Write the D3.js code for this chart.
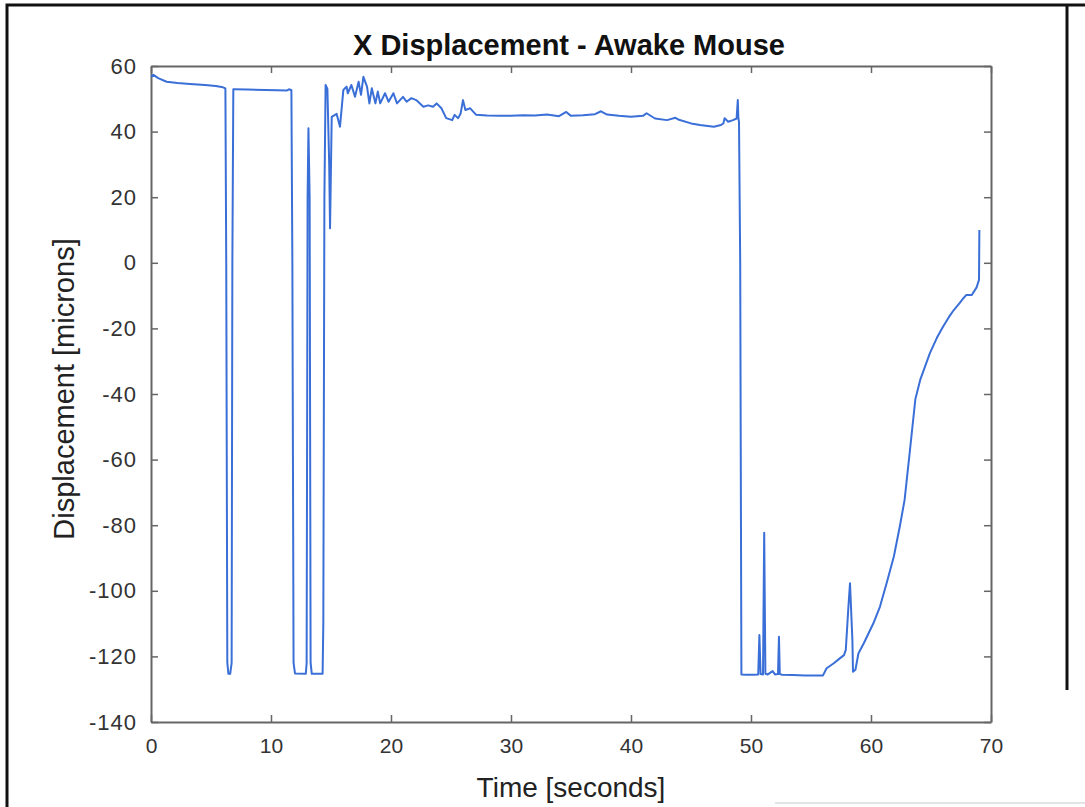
<!DOCTYPE html>
<html>
<head>
<meta charset="utf-8">
<script src="https://cdn.jsdelivr.net/npm/d3@7"></script>
<style>
  html, body { margin: 0; padding: 0; background: #fff; }
  svg { display: block; }
  text { font-family: "Liberation Sans", Arial, Helvetica, sans-serif; }
</style>
</head>
<body>
<svg id="chart" width="1085" height="807"></svg>
<script>
// Time samples [s]
const time = [
  0.0, 0.2, 0.6, 1.3, 2.2, 3.25, 4.5, 5.4, 6.0, 6.2, 6.27, 6.36, 6.45, 6.6, 6.72, 6.78, 6.86, 6.95,
  8.0, 9.5, 10.5, 11.3, 11.5, 11.7, 11.78, 11.88, 12.0, 12.9, 12.97, 13.05, 13.12, 13.22, 13.3, 13.4,
  14.3, 14.36, 14.45, 14.55, 14.7, 14.85, 14.92, 15.06, 15.47, 15.75, 16.03, 16.3, 16.4, 16.7, 17.0,
  17.3, 17.5, 17.7, 18.0, 18.2, 18.4, 18.7, 18.9, 19.1, 19.5, 19.8, 20.2, 20.5, 21.0, 21.3, 21.7,
  22.1, 22.7, 23.1, 23.5, 23.8, 24.2, 24.6, 25.1, 25.3, 25.6, 25.8, 26.0, 26.2, 26.6, 27.1, 28.0,
  29.1, 30.0, 31.0, 32.0, 33.0, 34.0, 34.6, 35.0, 36.0, 37.0, 37.5, 38.0, 39.0, 40.0, 41.0, 41.3,
  42.0, 43.0, 43.7, 44.0, 45.0, 45.75, 46.9, 47.5, 47.7, 47.8, 48.1, 48.5, 48.8, 48.9, 48.95, 49.0,
  49.1, 49.2, 49.6, 50.2, 50.6, 50.7, 50.8, 51.0, 51.1, 51.2, 51.4, 51.8, 52.0, 52.25, 52.33, 52.4,
  52.6, 53.5, 54.5, 55.5, 56.0, 56.3, 56.9, 57.4, 57.75, 57.9, 58.1, 58.25, 58.45, 58.5, 58.7, 58.95,
  59.4, 60.2, 60.75, 61.3, 61.9, 62.4, 62.8, 63.25, 63.7, 64.1, 64.9, 65.5, 66.0, 66.5, 66.9, 67.4,
  67.7, 67.95, 68.4, 68.8, 69.0, 69.03
];

// X displacement [microns]
const displacement = [
  56.7, 57.3, 56.3, 55.2, 54.8, 54.5, 54.2, 53.9, 53.5, 53.2, 0.0, -122.0, -125.3, -125.3, -122.0, 0.0, 52.9, 52.9,
  52.8, 52.7, 52.6, 52.5, 52.9, 52.6, 0.0, -122.0, -125.2, -125.3, -122.0, 20.0, 41.0, 20.0, -122.0, -125.3,
  -125.3, -110.0, 20.0, 54.2, 53.0, 30.0, 10.5, 44.5, 45.4, 41.5, 52.7, 53.7, 51.7, 54.2, 50.6,
  55.2, 51.2, 56.7, 53.7, 48.6, 53.2, 48.6, 52.2, 48.6, 51.7, 49.1, 51.7, 48.6, 50.6, 49.1, 50.2,
  49.6, 47.6, 48.0, 47.6, 48.6, 47.1, 44.1, 43.5, 45.1, 44.1, 45.5, 49.6, 46.6, 47.1, 45.1, 44.9,
  44.8, 44.8, 45.0, 44.9, 45.2, 44.7, 46.0, 44.8, 45.0, 45.3, 46.2, 45.2, 44.8, 44.5, 44.8, 45.6,
  44.0, 43.5, 44.2, 43.6, 42.5, 42.0, 41.5, 42.0, 42.5, 44.1, 43.0, 43.5, 44.0, 49.6, 44.0, 43.0,
  0.0, -125.5, -125.6, -125.6, -125.5, -113.5, -125.4, -125.5, -82.3, -125.3, -125.5, -124.5, -125.5, -125.4, -114.0, -125.4,
  -125.6, -125.7, -125.8, -125.8, -125.8, -123.6, -122.1, -120.6, -119.6, -118.0, -105.9, -97.7, -115.0, -124.7, -124.1, -119.1,
  -116.0, -109.9, -104.8, -97.7, -89.6, -80.4, -72.3, -57.0, -41.5, -35.7, -27.6, -22.8, -19.5, -16.5, -14.4, -12.2,
  -10.8, -9.8, -9.8, -7.5, -5.2, 10.0
];

const xTicks = [0, 10, 20, 30, 40, 50, 60, 70];
const yTicks = [-140, -120, -100, -80, -60, -40, -20, 0, 20, 40, 60];

const titleText = "X Displacement - Awake Mouse";
const xLabelText = "Time [seconds]";
const yLabelText = "Displacement [microns]";

const svg = d3.select("#chart");
const W = 1085, H = 807;
const m = { left: 151, top: 66, right: 991, bottom: 722 };

// Outer frame of the figure
svg.append("path")
  .attr("d", `M7,${H} L7,5 L${W},5 M1067,5 L1067,690`)
  .attr("fill", "none")
  .attr("stroke", "#111")
  .attr("stroke-width", 3);
svg.append("line")
  .attr("x1", 775).attr("x2", W).attr("y1", 803).attr("y2", 803)
  .attr("stroke", "#e4e4e4").attr("stroke-width", 2);

const x = d3.scaleLinear().domain([0, 70]).range([m.left, m.right]);
const y = d3.scaleLinear().domain([-140, 60]).range([m.bottom, m.top]);

const axisColor = "#666";
const tickLen = 7;
const plain = d => String(d);

// Axes with inward ticks on all four sides
const gBottom = svg.append("g").attr("transform", `translate(0,${m.bottom})`)
  .call(d3.axisBottom(x).tickValues(xTicks).tickFormat(plain).tickSizeInner(-tickLen).tickSizeOuter(0).tickPadding(16));
const gTop = svg.append("g").attr("transform", `translate(0,${m.top})`)
  .call(d3.axisTop(x).tickValues(xTicks).tickSizeInner(-tickLen).tickSizeOuter(0).tickFormat(""));
const gLeft = svg.append("g").attr("transform", `translate(${m.left},0)`)
  .call(d3.axisLeft(y).tickValues(yTicks).tickFormat(plain).tickSizeInner(-tickLen).tickSizeOuter(0).tickPadding(14));
const gRight = svg.append("g").attr("transform", `translate(${m.right},0)`)
  .call(d3.axisRight(y).tickValues(yTicks).tickSizeInner(-tickLen).tickSizeOuter(0).tickFormat(""));

[gBottom, gTop, gLeft, gRight].forEach(g => {
  g.select(".domain").attr("stroke", axisColor).attr("stroke-width", 2);
  g.selectAll(".tick line").attr("stroke", axisColor).attr("stroke-width", 1.5);
});
gBottom.selectAll(".tick text")
  .attr("font-size", 21).attr("fill", "#333")
  .attr("font-family", "'Liberation Sans', Arial, sans-serif");
gLeft.selectAll(".tick text")
  .attr("font-size", 22).attr("fill", "#333")
  .attr("letter-spacing", 1)
  .attr("font-family", "'Liberation Sans', Arial, sans-serif");

// Data trace
const line = d3.line()
  .x((d, i) => x(time[i]))
  .y(d => y(d));

svg.append("path")
  .datum(displacement)
  .attr("d", line)
  .attr("fill", "none")
  .attr("stroke", "#3b6fd8")
  .attr("stroke-width", 2)
  .attr("stroke-linejoin", "round");

// Title and axis labels
svg.append("text")
  .attr("x", (m.left + m.right) / 2 - 2).attr("y", 55)
  .attr("text-anchor", "middle")
  .attr("font-size", 29).attr("font-weight", "bold").attr("fill", "#111")
  .text(titleText);

svg.append("text")
  .attr("x", (m.left + m.right) / 2).attr("y", 797)
  .attr("text-anchor", "middle")
  .attr("font-size", 28).attr("fill", "#222")
  .text(xLabelText);

svg.append("text")
  .attr("transform", `translate(74,${(m.top + m.bottom) / 2 - 5}) rotate(-90)`)
  .attr("text-anchor", "middle")
  .attr("font-size", 29).attr("fill", "#222")
  .text(yLabelText);
</script>
</body>
</html>
